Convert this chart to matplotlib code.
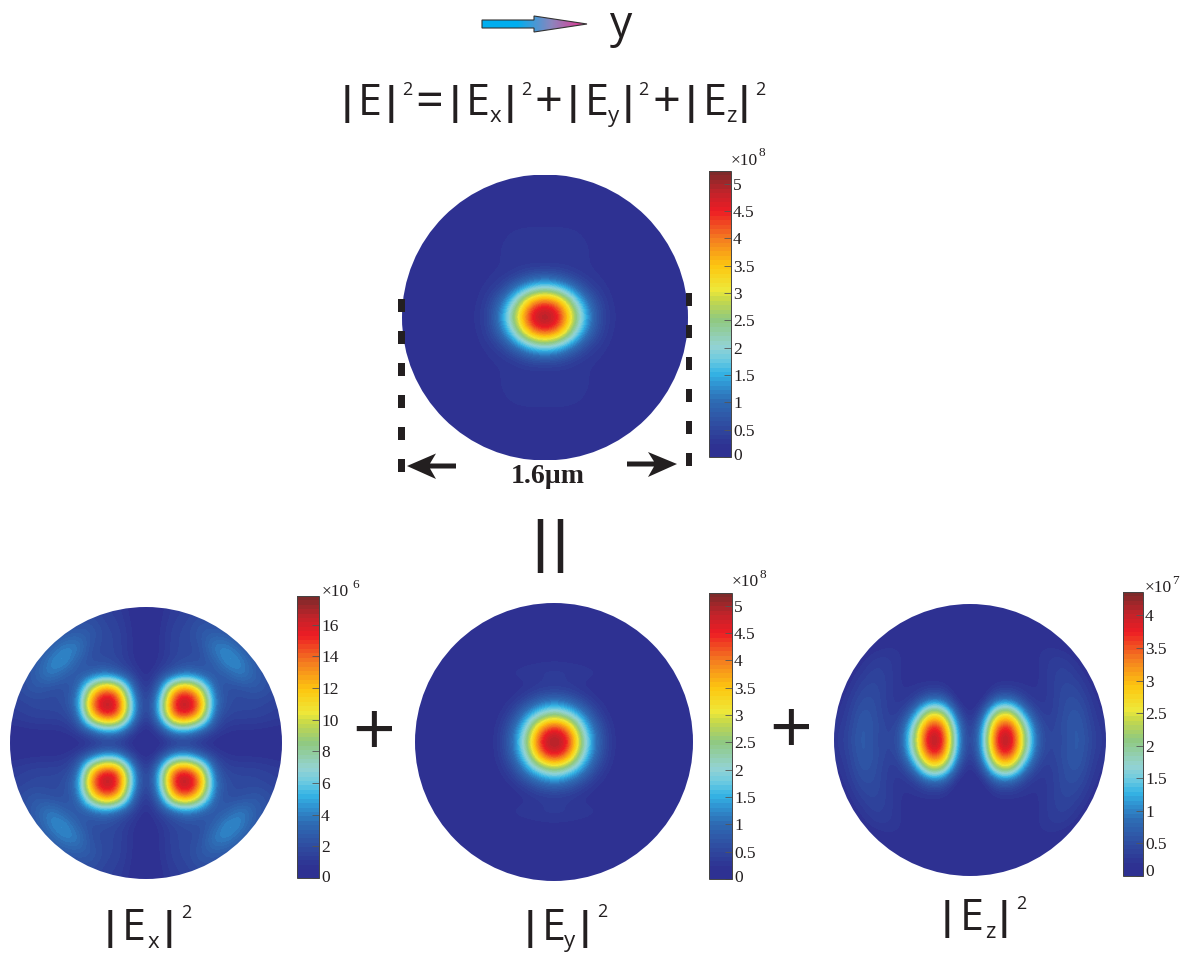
import numpy as np
import matplotlib
matplotlib.use("Agg")
import matplotlib.pyplot as plt
from matplotlib.colors import LinearSegmentedColormap, Normalize
from matplotlib.cm import ScalarMappable
from matplotlib.patches import Circle, Polygon, Rectangle
from matplotlib.transforms import ScaledTranslation

W, H = 1186, 956
INK = "#231f20"

# Field intensity, one quadrant on a 0.1-step grid of the
# unit disc (rows: distance from centre along x, columns: along y), colourbar units.
E_total = [
    [5.20, 4.80, 3.00, 1.35, 0.45, 0.22, 0.15, 0.08, 0.05, 0.05, 0.05],
    [4.60, 4.00, 2.30, 1.05, 0.40, 0.20, 0.12, 0.07, 0.05, 0.05, 0.05],
    [2.10, 1.75, 1.10, 0.50, 0.28, 0.18, 0.10, 0.06, 0.05, 0.05, 0.05],
    [0.60, 0.55, 0.35, 0.25, 0.22, 0.15, 0.08, 0.05, 0.05, 0.05, 0.05],
    [0.20, 0.22, 0.25, 0.25, 0.22, 0.15, 0.08, 0.05, 0.05, 0.05, 0.05],
    [0.30, 0.30, 0.28, 0.25, 0.22, 0.15, 0.07, 0.05, 0.05, 0.05, 0.05],
    [0.30, 0.30, 0.28, 0.22, 0.18, 0.08, 0.05, 0.05, 0.05, 0.05, 0.05],
    [0.15, 0.15, 0.14, 0.12, 0.08, 0.05, 0.05, 0.05, 0.05, 0.05, 0.05],
    [0.05, 0.05, 0.05, 0.05, 0.05, 0.05, 0.05, 0.05, 0.05, 0.05, 0.05],
    [0.05, 0.05, 0.05, 0.05, 0.05, 0.05, 0.05, 0.05, 0.05, 0.05, 0.05],
    [0.05, 0.05, 0.05, 0.05, 0.05, 0.05, 0.05, 0.05, 0.05, 0.05, 0.05],
]
E_x = [
    [0.2, 0.3, 0.4, 0.5, 0.4, 0.3, 0.3, 0.3, 0.3, 0.3, 0.3],
    [0.3, 1.5, 5.0, 5.6, 3.4, 1.6, 0.9, 0.8, 0.8, 0.7, 0.6],
    [0.4, 5.0, 14.5, 16.0, 12.0, 2.8, 1.6, 1.6, 1.6, 1.4, 1.2],
    [0.5, 5.6, 16.0, 17.8, 14.5, 3.8, 2.0, 1.8, 1.8, 1.6, 1.4],
    [0.5, 3.4, 12.0, 14.5, 10.0, 3.0, 2.0, 2.0, 2.6, 2.2, 1.6],
    [0.4, 1.6, 2.8, 3.8, 3.0, 2.2, 2.8, 4.2, 3.0, 2.0, 1.6],
    [0.3, 0.9, 1.6, 2.0, 2.0, 2.8, 4.8, 4.2, 2.6, 2.0, 1.6],
    [0.3, 0.8, 1.6, 1.8, 2.0, 4.2, 4.2, 3.0, 2.0, 1.6, 1.4],
    [0.3, 0.8, 1.6, 1.8, 2.6, 3.0, 2.6, 2.0, 1.6, 1.4, 1.4],
    [0.3, 0.7, 1.4, 1.6, 2.2, 2.0, 1.6, 1.4, 1.4, 1.4, 1.4],
    [0.3, 0.6, 1.2, 1.4, 1.6, 1.6, 1.4, 1.4, 1.4, 1.4, 1.4],
]
E_y = [
    [5.20, 4.80, 2.50, 1.00, 0.30, 0.12, 0.08, 0.05, 0.05, 0.05, 0.05],
    [4.80, 4.00, 2.00, 0.85, 0.28, 0.12, 0.07, 0.05, 0.05, 0.05, 0.05],
    [2.50, 2.00, 1.25, 0.50, 0.20, 0.10, 0.06, 0.05, 0.05, 0.05, 0.05],
    [1.00, 0.85, 0.50, 0.25, 0.15, 0.08, 0.05, 0.05, 0.05, 0.05, 0.05],
    [0.30, 0.28, 0.20, 0.15, 0.14, 0.10, 0.05, 0.05, 0.05, 0.05, 0.05],
    [0.38, 0.36, 0.32, 0.28, 0.22, 0.15, 0.05, 0.05, 0.05, 0.05, 0.05],
    [0.22, 0.20, 0.18, 0.15, 0.12, 0.07, 0.04, 0.04, 0.04, 0.04, 0.04],
    [0.06, 0.06, 0.06, 0.05, 0.05, 0.04, 0.04, 0.04, 0.04, 0.04, 0.04],
    [0.10, 0.10, 0.08, 0.05, 0.04, 0.04, 0.04, 0.04, 0.04, 0.04, 0.04],
    [0.16, 0.15, 0.10, 0.05, 0.04, 0.04, 0.04, 0.04, 0.04, 0.04, 0.04],
    [0.10, 0.08, 0.06, 0.04, 0.04, 0.04, 0.04, 0.04, 0.04, 0.04, 0.04],
]
E_z = [
    [0.05, 1.40, 4.10, 4.36, 2.30, 0.60, 0.35, 0.50, 0.70, 0.40, 0.22],
    [0.05, 1.20, 3.70, 3.90, 2.00, 0.50, 0.35, 0.55, 0.68, 0.35, 0.20],
    [0.05, 0.60, 2.40, 2.60, 1.00, 0.30, 0.30, 0.52, 0.62, 0.30, 0.15],
    [0.04, 0.12, 0.75, 0.78, 0.32, 0.20, 0.30, 0.50, 0.50, 0.25, 0.10],
    [0.03, 0.08, 0.22, 0.22, 0.20, 0.18, 0.32, 0.45, 0.40, 0.15, 0.08],
    [0.03, 0.05, 0.12, 0.12, 0.12, 0.18, 0.32, 0.40, 0.25, 0.10, 0.05],
    [0.03, 0.04, 0.08, 0.10, 0.12, 0.20, 0.30, 0.30, 0.15, 0.05, 0.03],
    [0.03, 0.04, 0.06, 0.08, 0.12, 0.18, 0.20, 0.12, 0.05, 0.03, 0.03],
    [0.03, 0.03, 0.04, 0.05, 0.06, 0.08, 0.05, 0.03, 0.03, 0.03, 0.03],
    [0.03, 0.03, 0.03, 0.03, 0.03, 0.03, 0.03, 0.03, 0.03, 0.03, 0.03],
    [0.03, 0.03, 0.03, 0.03, 0.03, 0.03, 0.03, 0.03, 0.03, 0.03, 0.03],
]

vmax_total, vmax_x, vmax_y, vmax_z = 5.23, 17.8, 5.23, 4.36
ticks_half = [0, 0.5, 1, 1.5, 2, 2.5, 3, 3.5, 4, 4.5, 5]
ticks_x = [0, 2, 4, 6, 8, 10, 12, 14, 16]
ticks_z = [0, 0.5, 1, 1.5, 2, 2.5, 3, 3.5, 4]

# (field, vmax, ticks, exponent, disc cx, cy, r, bar x0, x1, y0, y1,
#  multiplier x, y, exponent x, y, lift of the zero label in px)
panels = [
    (E_total, vmax_total, ticks_half, "8", 545, 317.5, 143, 709, 731, 171, 457, 744, 161, 762, 153, 3),
    (E_x, vmax_x, ticks_x, "6", 146, 743, 136, 297, 319, 596, 878, 335, 592, 356, 585, 2),
    (E_y, vmax_y, ticks_half, "8", 554, 742, 139, 709, 732, 593, 879, 745, 582, 763, 575, 3),
    (E_z, vmax_z, ticks_z, "7", 970, 740, 136, 1123, 1143, 592, 876, 1158, 588, 1175, 581, 6),
]

cmap = LinearSegmentedColormap.from_list("fieldjet", [
    (0.00, "#2e3192"), (0.03, "#2e3192"), (0.10, "#2f4a9f"), (0.19, "#2e6cb4"),
    (0.25, "#2f94d2"), (0.29, "#35b4e5"), (0.34, "#6fcbe0"), (0.385, "#93d3d3"),
    (0.48, "#90c97f"), (0.55, "#c6d84a"), (0.585, "#eee83a"), (0.67, "#fdc710"),
    (0.77, "#f47b20"), (0.865, "#ed1c24"), (0.93, "#c2232a"), (1.00, "#7e2a2a"),
], N=64)

plt.rcParams["font.family"] = ["Liberation Serif", "DejaVu Serif"]
fig = plt.figure(figsize=(W / 100, H / 100), dpi=100, facecolor="white")


def px_axes(x0, x1, y0, y1, **kw):
    return fig.add_axes([x0 / W, 1 - y1 / H, (x1 - x0) / W, (y1 - y0) / H], **kw)


for field, vmax, ticks, exp, cx, cy, r, bx0, bx1, by0, by1, mx, my, ex, ey, lift in panels:
    q = np.array(field, dtype=float)
    top = np.hstack([q[:, :0:-1], q])
    full = np.vstack([top[:0:-1], top])
    ax = px_axes(cx - r, cx + r, cy - r, cy + r)
    norm = Normalize(0, vmax)
    im = ax.imshow(full, extent=[-1.05, 1.05, -1.05, 1.05], cmap=cmap, norm=norm,
                   interpolation="bicubic", interpolation_stage="data", origin="lower")
    ax.set_xlim(-1, 1)
    ax.set_ylim(-1, 1)
    ax.axis("off")
    im.set_clip_path(Circle((0, 0), 1, transform=ax.transData))

    cax = px_axes(bx0, bx1, by0, by1)
    cb = fig.colorbar(ScalarMappable(norm=norm, cmap=cmap), cax=cax, ticks=ticks)
    cb.ax.set_yticklabels([f"{t:g}" for t in ticks])
    cb.ax.tick_params(direction="in", length=5, width=0.6, color="#555555",
                      labelsize=12.5, labelcolor=INK, pad=1.5)
    cb.outline.set_linewidth(0.7)
    cb.outline.set_edgecolor("#444444")
    zero = cb.ax.get_yticklabels()[0]
    zero.set_transform(zero.get_transform() + ScaledTranslation(0, lift / 100, fig.dpi_scale_trans))

# Overlay in pixel coordinates for annotations
ov = fig.add_axes([0, 0, 1, 1], facecolor="none")
ov.set_xlim(0, W)
ov.set_ylim(H, 0)
ov.axis("off")

for field, vmax, ticks, exp, cx, cy, r, bx0, bx1, by0, by1, mx, my, ex, ey, lift in panels:
    ov.text(mx, my, "×10", family="Liberation Serif", fontsize=12.5, color=INK, ha="center", va="center")
    ov.text(ex, ey, exp, family="Liberation Serif", fontsize=9.5, color=INK, ha="center", va="center")

SANS = "Open Sans"
BAR = "Lato"
BIG, OP, SUB, SUP = 31, 35, 16, 13
title_pieces = [
    (370, 115, "E", BIG), (407, 95, "2", SUP),
    (429, 117, "=", OP), (478, 115, "E", BIG), (495, 122, "x", SUB),
    (526, 95, "2", SUP), (548, 117, "+", OP),
    (597, 115, "E", BIG), (613, 122, "y", SUB), (643, 95, "2", SUP),
    (666, 117, "+", OP), (715, 115, "E", BIG), (731, 122, "z", SUB),
    (760, 95, "2", SUP),
]
label_pieces = [
    (134, 940, "E", BIG), (153, 948, "x", SUB), (186, 918, "2", SUP),
    (554, 940, "E", BIG), (570, 947, "y", SUB), (602, 917, "2", SUP),
    (972, 930, "E", BIG), (990, 938, "z", SUB), (1021, 909, "2", SUP),
]
bar_pieces = [
    (347, 116), (391, 116), (455, 116), (510, 116), (573, 116), (628, 116), (691, 116), (744, 116),
    (110, 941), (169, 941), (530, 941), (585, 941), (947, 931), (1004, 931),
]
for x, y, s, size in title_pieces + label_pieces:
    ov.text(x, y, s, family=SANS, fontsize=size, color=INK, ha="center", va="baseline")
for x, y in bar_pieces:
    ov.text(x, y, "|", family=BAR, fontweight="bold", fontsize=29, color=INK, ha="center", va="baseline")

ov.text(621, 37, "y", family=SANS, fontsize=32, color=INK, ha="center", va="baseline")
ov.text(374, 755, "+", family=SANS, fontsize=54, color=INK, ha="center", va="baseline")
ov.text(791, 753, "+", family=SANS, fontsize=54, color=INK, ha="center", va="baseline")
ov.text(540, 563, "|", family=BAR, fontweight="bold", fontsize=41, color=INK, ha="center", va="baseline")
ov.text(560, 563, "|", family=BAR, fontweight="bold", fontsize=41, color=INK, ha="center", va="baseline")
ov.text(548, 483, "1.6µm", family="Liberation Serif", fontweight="bold", fontsize=20,
        color=INK, ha="center", va="baseline")

# Dashed width markers
for x0, w, y_start in [(398, 7, 299), (686, 6, 293)]:
    for k in range(6):
        ov.add_patch(Rectangle((x0, y_start + 32 * k), w, 13, fc=INK, ec="none"))

# Black double arrow around the 1.6 µm label
ov.add_patch(Polygon([(407, 466), (436, 453.5), (430, 463.5), (456, 463.5), (456, 468.5),
                      (430, 468.5), (436, 479)], fc=INK, ec="none"))
ov.add_patch(Polygon([(677, 464), (648, 452), (654, 461.5), (627, 461.5), (627, 466.5),
                      (654, 466.5), (648, 477)], fc=INK, ec="none"))

# Gradient y arrow
arrow = Polygon([(482, 20), (534, 20), (534, 16), (587, 24), (534, 32), (534, 28), (482, 28)],
                fc="none", ec="#333333", lw=0.8, zorder=3)
grad = LinearSegmentedColormap.from_list("arrow", ["#00aeef", "#00aeef", "#8c85bd", "#ec2f8e"])
img = ov.imshow(np.linspace(0, 1, 128)[None, :], extent=[482, 587, 32, 16], cmap=grad,
                aspect="auto", zorder=2)
ov.add_patch(arrow)
img.set_clip_path(arrow)
ov.set_xlim(0, W)
ov.set_ylim(H, 0)

fig.savefig("out.png", dpi=100)
